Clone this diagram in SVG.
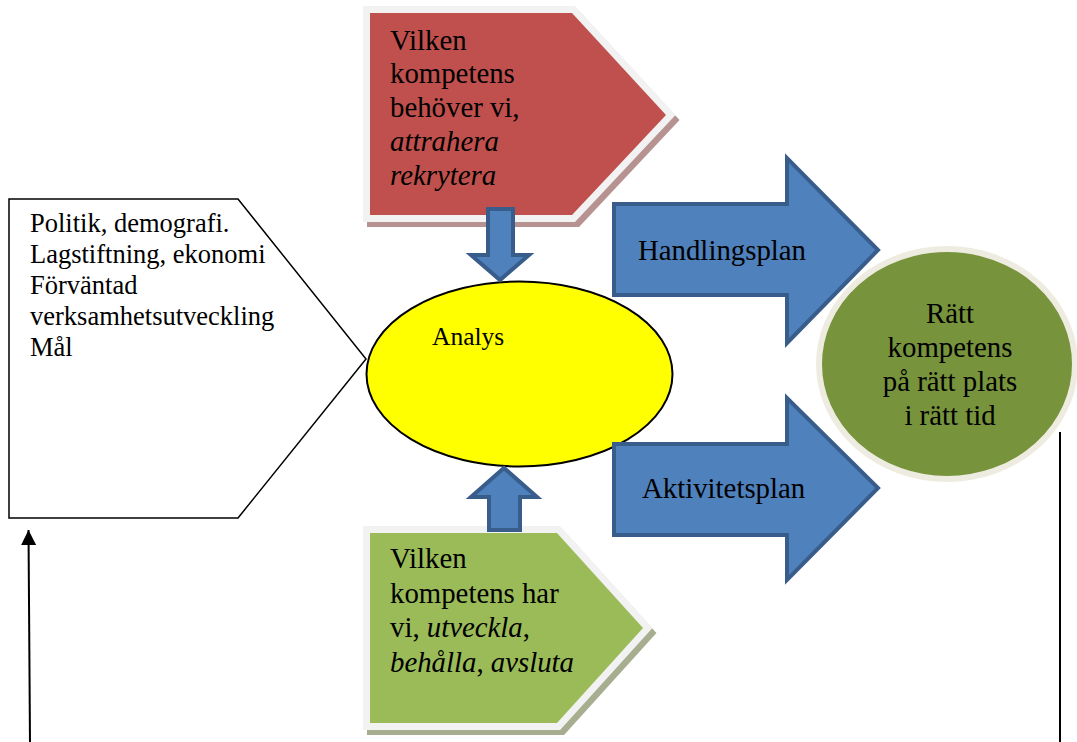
<svg xmlns="http://www.w3.org/2000/svg" width="1077" height="742" viewBox="0 0 1077 742">
  <defs>
    <style>
      .t28 { font-size: 28.8px; }
      .t26 { font-size: 26.5px; }
      .t25 { font-size: 25.5px; }
      .it { font-style: italic; }
      .blue { fill: #4f81bd; stroke: #385d8a; stroke-width: 4; stroke-linejoin: miter; }
      .pent { stroke: #f2f2f2; stroke-width: 14; stroke-linejoin: miter; paint-order: stroke; }
      .conn { stroke: #000; stroke-width: 2; fill: none; }
    </style>
    <marker id="arrow" markerWidth="15" markerHeight="15" refX="15" refY="7.5" viewBox="0 0 15 15" orient="auto" markerUnits="userSpaceOnUse">
      <path d="M0,0 L15,7.5 L0,15 Z" fill="#000"/>
    </marker>
  </defs>
  <rect width="1077" height="742" fill="#fff"/>

  <g font-family="'Liberation Serif', 'DejaVu Serif', serif" fill="#000">
  <g id="context-box">
    <polygon points="9,199 238,199 366,359 238,518 9,518" fill="#fff" stroke="#000" stroke-width="1.5"/>
    <text class="t26" x="30" y="232">Politik, demografi.</text>
    <text class="t26" x="30" y="263">Lagstiftning, ekonomi</text>
    <text class="t26" x="30" y="294">Förväntad</text>
    <text class="t26" x="30" y="325">verksamhetsutveckling</text>
    <text class="t26" x="30" y="356">Mål</text>
  </g>

  <g id="recruit">
    <polygon points="374,18 576,18 670,120 576,220 374,220" fill="#b69290" stroke="#b69290" stroke-width="14" stroke-linejoin="miter"/>
    <polygon class="pent" points="370,13 572,13 666,115 572,215 370,215" fill="#c0504d"/>
    <text class="t28" x="390" y="50">Vilken</text>
    <text class="t28" x="390" y="83">kompetens</text>
    <text class="t28" x="390" y="117">behöver vi,</text>
    <text class="t28 it" x="390" y="151">attrahera</text>
    <text class="t28 it" x="390" y="185">rekrytera</text>
  </g>

  <g id="develop">
    <polygon points="374,538 561,538 647,633 561,728 374,728" fill="#a7ae90" stroke="#a7ae90" stroke-width="14" stroke-linejoin="miter"/>
    <polygon class="pent" points="370,533 557,533 643,628 557,723 370,723" fill="#9bbb59"/>
    <text class="t28" x="390" y="568">Vilken</text>
    <text class="t28" x="390" y="603">kompetens har</text>
    <text class="t28" x="390" y="637">vi, <tspan class="it">utveckla</tspan>,</text>
    <text class="t28" x="390" y="672"><tspan class="it">behålla</tspan>, <tspan class="it">avsluta</tspan></text>
  </g>

  <g id="analys">
    <ellipse cx="519.5" cy="374" rx="153" ry="92.5" fill="#ffff00" stroke="#000" stroke-width="2"/>
    <text class="t25" x="432" y="345">Analys</text>
  </g>

  <g id="arrow-down">
    <polygon class="blue" points="488,209 513,209 513,255 529,255 500,280 471,255 488,255"/>
  </g>
  <g id="arrow-up">
    <polygon class="blue" points="489,530 520,530 520,497 537,497 504,468 471,497 489,497"/>
  </g>

  <g id="handlingsplan">
    <polygon class="blue" points="614,204 787,204 787,158 878,250 787,343 787,295 614,295"/>
    <text class="t28" x="638" y="260">Handlingsplan</text>
  </g>
  <g id="aktivitetsplan">
    <polygon class="blue" points="614,444 787,444 787,398 878,488 787,580 787,535 614,535"/>
    <text class="t28" x="642" y="498">Aktivitetsplan</text>
  </g>

  <g id="result">
    <ellipse cx="947" cy="364" rx="128" ry="115" fill="#77933c" stroke="#eeece1" stroke-width="6"/>
    <text class="t28" x="950" y="323" text-anchor="middle">Rätt</text>
    <text class="t28" x="950" y="357" text-anchor="middle">kompetens</text>
    <text class="t28" x="950" y="391" text-anchor="middle">på rätt plats</text>
    <text class="t28" x="950" y="425" text-anchor="middle">i rätt tid</text>
  </g>
  </g>

  <g id="connectors">
    <line class="conn" x1="1060" y1="432" x2="1060" y2="742"/>
    <line class="conn" x1="30" y1="742" x2="28.5" y2="530" marker-end="url(#arrow)"/>
  </g>
</svg>
